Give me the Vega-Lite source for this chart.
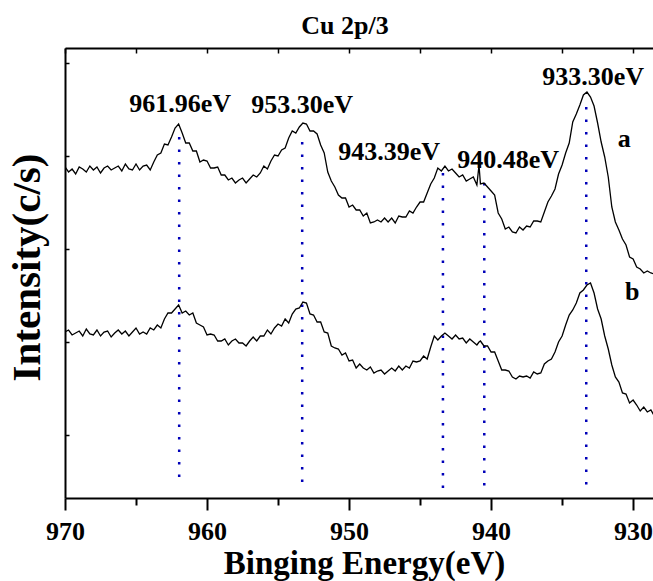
{
  "$schema": "https://vega.github.io/schema/vega-lite/v6.json",
  "width": 588,
  "height": 450,
  "autosize": {"type": "none"},
  "padding": {"left": 65, "top": 48, "right": 0, "bottom": 83},
  "background": "white",
  "config": {"view": {"stroke": null}, "font": "Liberation Serif", "axis": {"grid": false}},
  "title": {"text": "Cu 2p/3", "font": "Liberation Serif", "fontSize": 26, "fontWeight": "bold", "anchor": "middle", "frame": "group", "offset": 15, "baseline": "alphabetic", "dx": -14, "dy": 28, "color": "black"},
  "datasets": {
    "peaks": [
      {"e": 961.96, "top": 361, "bottom": 13},
      {"e": 953.30, "top": 356, "bottom": 8},
      {"e": 943.39, "top": 325, "bottom": 1},
      {"e": 940.48, "top": 315, "bottom": 5},
      {"e": 933.30, "top": 391, "bottom": 6}
    ],
    "labels": [
      {"label": "961.96eV", "e": 961.9, "h": 386},
      {"label": "953.30eV", "e": 953.3, "h": 385},
      {"label": "943.39eV", "e": 947.18, "h": 338},
      {"label": "940.48eV", "e": 938.8, "h": 330},
      {"label": "933.30eV", "e": 932.82, "h": 413},
      {"label": "a", "e": 930.63, "h": 351},
      {"label": "b", "e": 930.07, "h": 198}
    ],
    "spectrum": [
{"e":970,"a":331,"b":166},
{"e":969.75,"a":326,"b":168},
{"e":969.5,"a":329,"b":163},
{"e":969.25,"a":324,"b":165},
{"e":969,"a":331,"b":167},
{"e":968.75,"a":329,"b":162},
{"e":968.5,"a":326,"b":169},
{"e":968.25,"a":332,"b":164},
{"e":968,"a":328,"b":163},
{"e":967.75,"a":331,"b":168},
{"e":967.5,"a":325,"b":162},
{"e":967.25,"a":330,"b":166},
{"e":967,"a":332,"b":167},
{"e":966.75,"a":328,"b":161},
{"e":966.5,"a":330,"b":165},
{"e":966.25,"a":332,"b":168},
{"e":966,"a":327,"b":164},
{"e":965.75,"a":334,"b":167},
{"e":965.5,"a":329,"b":162},
{"e":965.25,"a":328,"b":166},
{"e":965,"a":334,"b":170},
{"e":964.75,"a":328,"b":164},
{"e":964.5,"a":332,"b":166},
{"e":964.25,"a":333,"b":164},
{"e":964,"a":328,"b":170},
{"e":963.75,"a":336,"b":168},
{"e":963.5,"a":343,"b":173},
{"e":963.25,"a":345,"b":170},
{"e":963,"a":354,"b":179},
{"e":962.75,"a":353,"b":185},
{"e":962.5,"a":361,"b":185},
{"e":962.25,"a":370,"b":189},
{"e":962,"a":374,"b":193},
{"e":961.75,"a":365,"b":185},
{"e":961.5,"a":355,"b":187},
{"e":961.25,"a":355,"b":183},
{"e":961,"a":347,"b":185},
{"e":960.75,"a":347,"b":175},
{"e":960.5,"a":336,"b":173},
{"e":960.25,"a":338,"b":171},
{"e":960,"a":337,"b":163},
{"e":959.75,"a":330,"b":164},
{"e":959.5,"a":330,"b":163},
{"e":959.25,"a":331,"b":157},
{"e":959,"a":323,"b":157},
{"e":958.75,"a":323,"b":159},
{"e":958.5,"a":318,"b":153},
{"e":958.25,"a":320,"b":157},
{"e":958,"a":315,"b":159},
{"e":957.75,"a":318,"b":155},
{"e":957.5,"a":320,"b":155},
{"e":957.25,"a":315,"b":152},
{"e":957,"a":319,"b":157},
{"e":956.75,"a":323,"b":161},
{"e":956.5,"a":321,"b":157},
{"e":956.25,"a":325,"b":162},
{"e":956,"a":332,"b":162},
{"e":955.75,"a":329,"b":168},
{"e":955.5,"a":337,"b":164},
{"e":955.25,"a":343,"b":170},
{"e":955,"a":342,"b":174},
{"e":954.75,"a":348,"b":172},
{"e":954.5,"a":350,"b":179},
{"e":954.25,"a":360,"b":175},
{"e":954,"a":367,"b":184},
{"e":953.75,"a":365,"b":189},
{"e":953.5,"a":371,"b":190},
{"e":953.25,"a":375,"b":196},
{"e":953,"a":374,"b":195},
{"e":952.75,"a":367,"b":184},
{"e":952.5,"a":367,"b":183},
{"e":952.25,"a":364,"b":176},
{"e":952,"a":353,"b":176},
{"e":951.75,"a":345,"b":166},
{"e":951.5,"a":326,"b":165},
{"e":951.25,"a":317,"b":152},
{"e":951,"a":311,"b":150},
{"e":950.75,"a":303,"b":149},
{"e":950.5,"a":300,"b":143},
{"e":950.25,"a":300,"b":145},
{"e":950,"a":291,"b":137},
{"e":949.75,"a":293,"b":138},
{"e":949.5,"a":288,"b":130},
{"e":949.25,"a":288,"b":134},
{"e":949,"a":282,"b":130},
{"e":948.75,"a":285,"b":128},
{"e":948.5,"a":275,"b":131},
{"e":948.25,"a":276,"b":125},
{"e":948,"a":278,"b":127},
{"e":947.75,"a":276,"b":128},
{"e":947.5,"a":280,"b":124},
{"e":947.25,"a":276,"b":127},
{"e":947,"a":280,"b":130},
{"e":946.75,"a":275,"b":127},
{"e":946.5,"a":282,"b":132},
{"e":946.25,"a":281,"b":128},
{"e":946,"a":281,"b":132},
{"e":945.75,"a":287,"b":130},
{"e":945.5,"a":285,"b":137},
{"e":945.25,"a":291,"b":136},
{"e":945,"a":296,"b":137},
{"e":944.75,"a":296,"b":142},
{"e":944.5,"a":305,"b":139},
{"e":944.25,"a":314,"b":151},
{"e":944,"a":320,"b":162},
{"e":943.75,"a":330,"b":158},
{"e":943.5,"a":327,"b":162},
{"e":943.25,"a":332,"b":165},
{"e":943,"a":327,"b":162},
{"e":942.75,"a":329,"b":159},
{"e":942.5,"a":325,"b":163},
{"e":942.25,"a":321,"b":159},
{"e":942,"a":323,"b":160},
{"e":941.75,"a":317,"b":155},
{"e":941.5,"a":319,"b":159},
{"e":941.25,"a":321,"b":156},
{"e":941,"a":313,"b":153},
{"e":940.85,"a":333,"b":156},
{"e":940.75,"a":314,"b":157},
{"e":940.5,"a":315,"b":152},
{"e":940.25,"a":311,"b":152},
{"e":940,"a":307,"b":146},
{"e":939.75,"a":303,"b":146},
{"e":939.5,"a":285,"b":137},
{"e":939.25,"a":279,"b":128},
{"e":939,"a":269,"b":128},
{"e":938.75,"a":271,"b":127},
{"e":938.5,"a":266,"b":121},
{"e":938.25,"a":265,"b":119},
{"e":938,"a":271,"b":122},
{"e":937.75,"a":268,"b":121},
{"e":937.5,"a":272,"b":122},
{"e":937.25,"a":271,"b":120},
{"e":937,"a":277,"b":126},
{"e":936.75,"a":277,"b":124},
{"e":936.5,"a":276,"b":125},
{"e":936.25,"a":286,"b":134},
{"e":936,"a":296,"b":137},
{"e":935.75,"a":302,"b":139},
{"e":935.5,"a":309,"b":146},
{"e":935.25,"a":324,"b":156},
{"e":935,"a":333,"b":162},
{"e":934.75,"a":345,"b":173},
{"e":934.5,"a":355,"b":183},
{"e":934.25,"a":376,"b":188},
{"e":934,"a":384,"b":195},
{"e":933.75,"a":393,"b":205},
{"e":933.5,"a":403,"b":208},
{"e":933.25,"a":406,"b":213},
{"e":933,"a":401,"b":215},
{"e":932.75,"a":392,"b":205},
{"e":932.5,"a":375,"b":189},
{"e":932.25,"a":356,"b":179},
{"e":932,"a":341,"b":162},
{"e":931.75,"a":321,"b":149},
{"e":931.5,"a":291,"b":133},
{"e":931.25,"a":276,"b":121},
{"e":931,"a":268,"b":116},
{"e":930.75,"a":259,"b":105},
{"e":930.5,"a":253,"b":104},
{"e":930.25,"a":241,"b":95},
{"e":930,"a":239,"b":98},
{"e":929.75,"a":231,"b":93},
{"e":929.5,"a":229,"b":87},
{"e":929.25,"a":225,"b":91},
{"e":929,"a":227,"b":86},
{"e":928.75,"a":225,"b":88},
{"e":928.5,"a":224,"b":82}
    ]
  },
  "layer": [
    {
      "data": {"name": "peaks"},
      "mark": {"type": "rule", "color": "#0000b8", "strokeWidth": 2.5, "strokeDash": [2.5, 10]},
      "encoding": {
        "x": {"field": "e", "type": "quantitative",
          "scale": {"domain": [928.6, 970], "reverse": true, "nice": false, "zero": false},
          "axis": {"orient": "top", "values": [930, 935, 940, 945, 950, 955, 960, 965, 970], "labels": false, "tickSize": -5, "tickWidth": 1.5, "tickColor": "black", "domainWidth": 2, "domainColor": "black", "title": null}},
        "y": {"field": "top", "type": "quantitative", "scale": {"domain": [0, 450], "nice": false, "zero": false},
          "axis": {"orient": "left", "values": [63, 156, 249, 342, 435], "labels": false, "tickSize": -4, "tickWidth": 1.5, "tickColor": "black", "domainWidth": 2, "domainColor": "black",
            "title": "Intensity(c/s)", "titleFont": "Liberation Serif", "titleFontWeight": "bold", "titleFontSize": 41, "titleColor": "black", "titleAngle": -90, "titleBaseline": "alphabetic", "titleAlign": "center", "titleX": -26, "titleY": 219}},
        "y2": {"field": "bottom"}
      }
    },
    {
      "data": {"name": "spectrum"},
      "transform": [{"fold": ["a", "b"], "as": ["curve", "intensity"]}],
      "mark": {"type": "line", "color": "black", "strokeWidth": 1.3, "clip": true},
      "encoding": {
        "x": {"field": "e", "type": "quantitative",
          "scale": {"domain": [928.6, 970], "reverse": true, "nice": false, "zero": false},
          "axis": {"orient": "bottom", "values": [930, 940, 950, 960, 970], "tickSize": 12, "tickWidth": 2, "tickColor": "black", "domainWidth": 2, "domainColor": "black",
            "labelFont": "Liberation Serif", "labelFontWeight": "bold", "labelFontSize": 26, "labelColor": "black", "labelBaseline": "alphabetic", "labelPadding": 29, "labelOverlap": false, "labelFlush": false,
            "title": "Binging Energy(eV)", "titleFont": "Liberation Serif", "titleFontWeight": "bold", "titleFontSize": 33, "titleColor": "black", "titleBaseline": "alphabetic", "titleAlign": "center", "titleX": 299, "titleY": 75}},
        "y": {"field": "intensity", "type": "quantitative", "scale": {"domain": [0, 450], "nice": false, "zero": false},
          "axis": {"orient": "left", "values": [63, 156, 249, 342, 435], "labels": false, "tickSize": -4, "tickWidth": 1.5, "tickColor": "black", "domainWidth": 2, "domainColor": "black",
            "title": "Intensity(c/s)", "titleFont": "Liberation Serif", "titleFontWeight": "bold", "titleFontSize": 41, "titleColor": "black", "titleAngle": -90, "titleBaseline": "alphabetic", "titleAlign": "center", "titleX": -26, "titleY": 219}},
        "detail": {"field": "curve", "type": "nominal"}
      }
    },
    {
      "data": {"name": "labels"},
      "mark": {"type": "text", "font": "Liberation Serif", "fontWeight": "bold", "fontSize": 26, "align": "center", "baseline": "alphabetic", "color": "black"},
      "encoding": {
        "x": {"field": "e", "type": "quantitative",
          "scale": {"domain": [928.6, 970], "reverse": true, "nice": false, "zero": false},
          "axis": {"orient": "bottom", "values": [935, 945, 955, 965], "labels": false, "domain": false, "tickSize": 7, "tickWidth": 2, "tickColor": "black", "title": null}},
        "y": {"field": "h", "type": "quantitative", "scale": {"domain": [0, 450], "nice": false, "zero": false},
          "axis": {"orient": "left", "values": [63, 156, 249, 342, 435], "labels": false, "tickSize": -4, "tickWidth": 1.5, "tickColor": "black", "domainWidth": 2, "domainColor": "black",
            "title": "Intensity(c/s)", "titleFont": "Liberation Serif", "titleFontWeight": "bold", "titleFontSize": 41, "titleColor": "black", "titleAngle": -90, "titleBaseline": "alphabetic", "titleAlign": "center", "titleX": -26, "titleY": 219}},
        "text": {"field": "label", "type": "nominal"}
      }
    }
  ],
  "resolve": {"scale": {"x": "independent"}, "axis": {"x": "independent"}}
}
